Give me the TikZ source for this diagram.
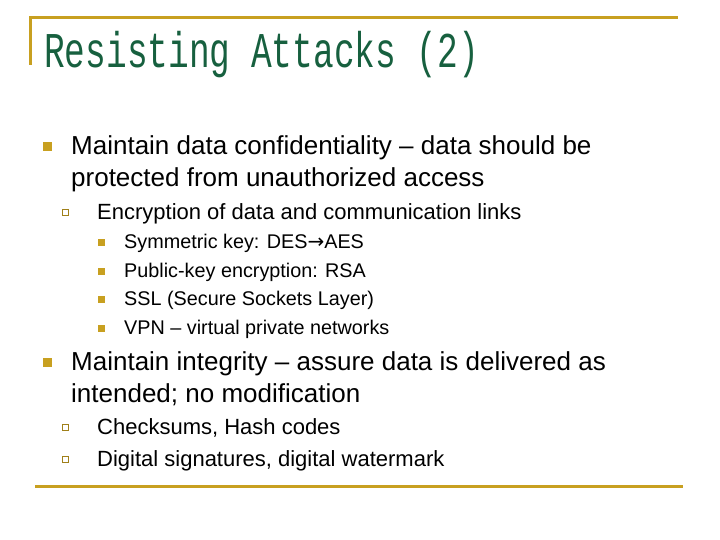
\documentclass[tikz,border=0pt]{standalone}
\usepackage{fontspec}
\setmainfont{Liberation Sans}
\newfontfamily\titlefont{Liberation Mono}
\newfontfamily\arrowfont{DejaVu Sans}
\definecolor{gold}{HTML}{C8A020}
\definecolor{tgreen}{HTML}{17603F}
\begin{document}
\begin{tikzpicture}[x=1pt,y=-1pt,
  lone/.style={anchor=base west,inner sep=0pt,font=\fontsize{26}{30}\selectfont},
  ltwo/.style={anchor=base west,inner sep=0pt,font=\fontsize{22}{26}\selectfont},
  lthree/.style={anchor=base west,inner sep=0pt,font=\fontsize{19.8}{23}\selectfont},
  bone/.style={fill=gold,minimum size=9pt,inner sep=0pt},
  btwo/.style={draw=gold!80!black,fill=white,line width=0.8pt,minimum size=6pt,inner sep=0pt},
  bthree/.style={fill=gold,minimum size=7pt,inner sep=0pt}]
\useasboundingbox (0,0) rectangle (720,540);
\draw[gold,line width=3pt] (30,65) -- (30,18) -- (678,18);
\draw[gold,line width=3pt] (35,486) -- (683,486);
\node[anchor=base west,inner sep=0pt,text=tgreen] (title) at (44,68)
  {\titlefont\fontsize{34.5}{38}\selectfont\scalebox{1}[1.45]{Resisting Attacks (2)}};
\node[bone] (b1) at (47,147) {};
\node[lone] (t1) at (71,155) {Maintain data confidentiality – data should be};
\node[lone] (t1b) at (71,187) {protected from unauthorized access};
\node[btwo] (b2) at (65,212) {};
\node[ltwo] (t2) at (97,219) {Encryption of data and communication links};
\node[bthree] (b3) at (101,242) {};
\node[lthree] (t3) at (124,248) {Symmetric key: DES{\arrowfont\fontsize{20}{22}\selectfont→}AES};
\node[bthree] (b4) at (101,271) {};
\node[lthree] (t4) at (124,277) {Public-key encryption: RSA};
\node[bthree] (b5) at (101,299) {};
\node[lthree] (t5) at (124,305) {SSL (Secure Sockets Layer)};
\node[bthree] (b6) at (101,328) {};
\node[lthree] (t6) at (124,334) {VPN – virtual private networks};
\node[bone] (b7) at (47,362) {};
\node[lone] (t7) at (71,370) {Maintain integrity – assure data is delivered as};
\node[lone] (t7b) at (71,402) {intended; no modification};
\node[btwo] (b8) at (65,427) {};
\node[ltwo] (t8) at (97,434) {Checksums, Hash codes};
\node[btwo] (b9) at (65,459) {};
\node[ltwo] (t9) at (97,466) {Digital signatures, digital watermark};
\end{tikzpicture}
\end{document}
